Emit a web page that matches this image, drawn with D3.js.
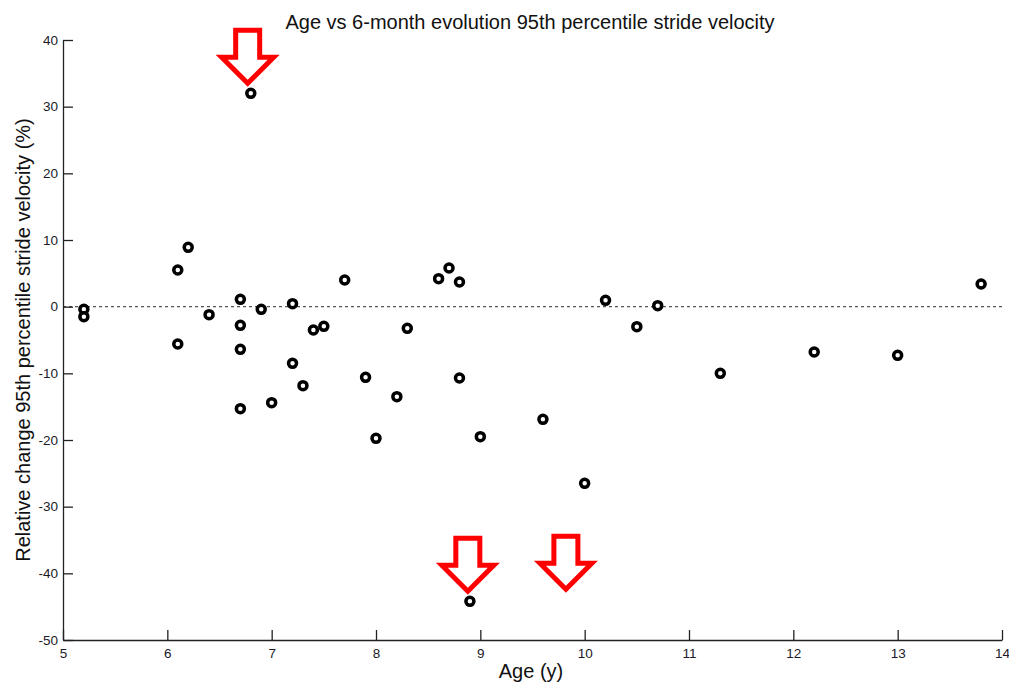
<!DOCTYPE html>
<html>
<head>
<meta charset="utf-8">
<script src="https://cdn.jsdelivr.net/npm/d3@7"></script>
<style>
  html, body { margin: 0; padding: 0; background: #fff; }
  svg { display: block; }
  text { font-family: Arial, "Liberation Sans", sans-serif; }
</style>
</head>
<body>
<div id="chart"></div>
<script>
// ---- Data ----
const ages = [5.2, 5.2, 6.1, 6.2, 6.1, 6.4, 6.7, 6.7, 6.7, 6.7, 6.8, 6.9, 7.0, 7.2, 7.2, 7.3, 7.4, 7.5, 7.7, 7.9, 8.0, 8.2, 8.3, 8.6, 8.7, 8.8, 8.8, 8.9, 9.0, 9.6, 10.0, 10.2, 10.5, 10.7, 11.3, 12.2, 13.0, 13.8];
const changes = [-0.4, -1.5, 5.5, 8.9, -5.6, -1.2, 1.1, -2.8, -6.4, -15.3, 32.0, -0.4, -14.4, 0.45, -8.5, -11.85, -3.5, -2.95, 4.0, -10.6, -19.75, -13.5, -3.25, 4.2, 5.8, 3.7, -10.7, -44.2, -19.5, -16.9, -26.5, 0.95, -3.0, 0.15, -10.0, -6.8, -7.3, 3.4];
const xTicks = [5, 6, 7, 8, 9, 10, 11, 12, 13, 14];
const yTicks = [-50, -40, -30, -20, -10, 0, 10, 20, 30, 40];
// Arrow annotations: tip positions in data units
const arrowX = [6.77, 8.88, 9.82];
const arrowY = [33.5, -42.7, -42.4];

const titleText = "Age vs 6-month evolution 95th percentile stride velocity";
const xLabel = "Age (y)";
const yLabel = "Relative change 95th percentile stride velocity (%)";

// ---- Layout ----
const W = 1009, H = 687;

const svg = d3.select("#chart").append("svg")
  .attr("width", W).attr("height", H);

const x = d3.scaleLinear().domain([5, 14]).range([63, 1002]);
const y = d3.scaleLinear().domain([-50, 40]).range([640, 40]);

// Zero reference dotted line
svg.append("line")
  .attr("x1", x(5)).attr("x2", x(14))
  .attr("y1", y(0)).attr("y2", y(0))
  .attr("stroke", "#555").attr("stroke-width", 1.3)
  .attr("stroke-dasharray", "3,3");

const tickFont = 13.5;
const fmt = d => String(d);

// X axis (inward ticks)
const xAxis = svg.append("g")
  .attr("transform", `translate(0,${y(-50)})`)
  .call(d3.axisBottom(x).tickValues(xTicks).tickFormat(fmt)
    .tickSizeInner(-10).tickSizeOuter(0).tickPadding(8));
xAxis.select(".domain").attr("stroke", "#222").attr("stroke-width", 1.3);
xAxis.selectAll(".tick line").attr("stroke", "#222").attr("stroke-width", 1.3);
xAxis.selectAll(".tick text").attr("font-size", tickFont).attr("fill", "#1a1a2a")
  .attr("font-family", "Arial, 'Liberation Sans', sans-serif");

// Y axis (inward ticks)
const yAxis = svg.append("g")
  .attr("transform", `translate(${x(5)},0)`)
  .call(d3.axisLeft(y).tickValues(yTicks).tickFormat(fmt)
    .tickSizeInner(-10).tickSizeOuter(0).tickPadding(5));
yAxis.select(".domain").attr("stroke", "#222").attr("stroke-width", 1.3);
yAxis.selectAll(".tick line").attr("stroke", "#222").attr("stroke-width", 1.3);
yAxis.selectAll(".tick text").attr("font-size", tickFont).attr("fill", "#1a1a2a")
  .attr("font-family", "Arial, 'Liberation Sans', sans-serif");

// Points
svg.append("g").selectAll("circle")
  .data(ages.map((a, i) => ({ a, c: changes[i] })))
  .join("circle")
  .attr("cx", d => x(d.a))
  .attr("cy", d => y(d.c))
  .attr("r", 4)
  .attr("fill", "#fff")
  .attr("stroke", "#000")
  .attr("stroke-width", 3.5);

// Arrow annotations (block arrows, red outline)
const shaftHalf = 12, headHalf = 26, headLen = 26, totalLen = 53;
function arrowPath(tx, ty) {
  const top = ty - totalLen, headTop = ty - headLen;
  return `M${tx - shaftHalf},${top} L${tx + shaftHalf},${top} L${tx + shaftHalf},${headTop} ` +
         `L${tx + headHalf},${headTop} L${tx},${ty} L${tx - headHalf},${headTop} ` +
         `L${tx - shaftHalf},${headTop} Z`;
}
svg.append("g").selectAll("path")
  .data(arrowX.map((ax, i) => ({ ax, ay: arrowY[i] })))
  .join("path")
  .attr("d", d => arrowPath(x(d.ax), y(d.ay)))
  .attr("fill", "#fff")
  .attr("stroke", "#ff0000")
  .attr("stroke-width", 5)
  .attr("stroke-linejoin", "miter");

// Title
svg.append("text")
  .attr("x", 530).attr("y", 29)
  .attr("text-anchor", "middle")
  .attr("font-size", 20).attr("fill", "#111")
  .text(titleText);

// X label
svg.append("text")
  .attr("x", 531).attr("y", 678)
  .attr("text-anchor", "middle")
  .attr("font-size", 20).attr("fill", "#111")
  .text(xLabel);

// Y label
svg.append("text")
  .attr("transform", `translate(30,${y(-5)}) rotate(-90)`)
  .attr("text-anchor", "middle")
  .attr("font-size", 20).attr("fill", "#111")
  .text(yLabel);
</script>
</body>
</html>
